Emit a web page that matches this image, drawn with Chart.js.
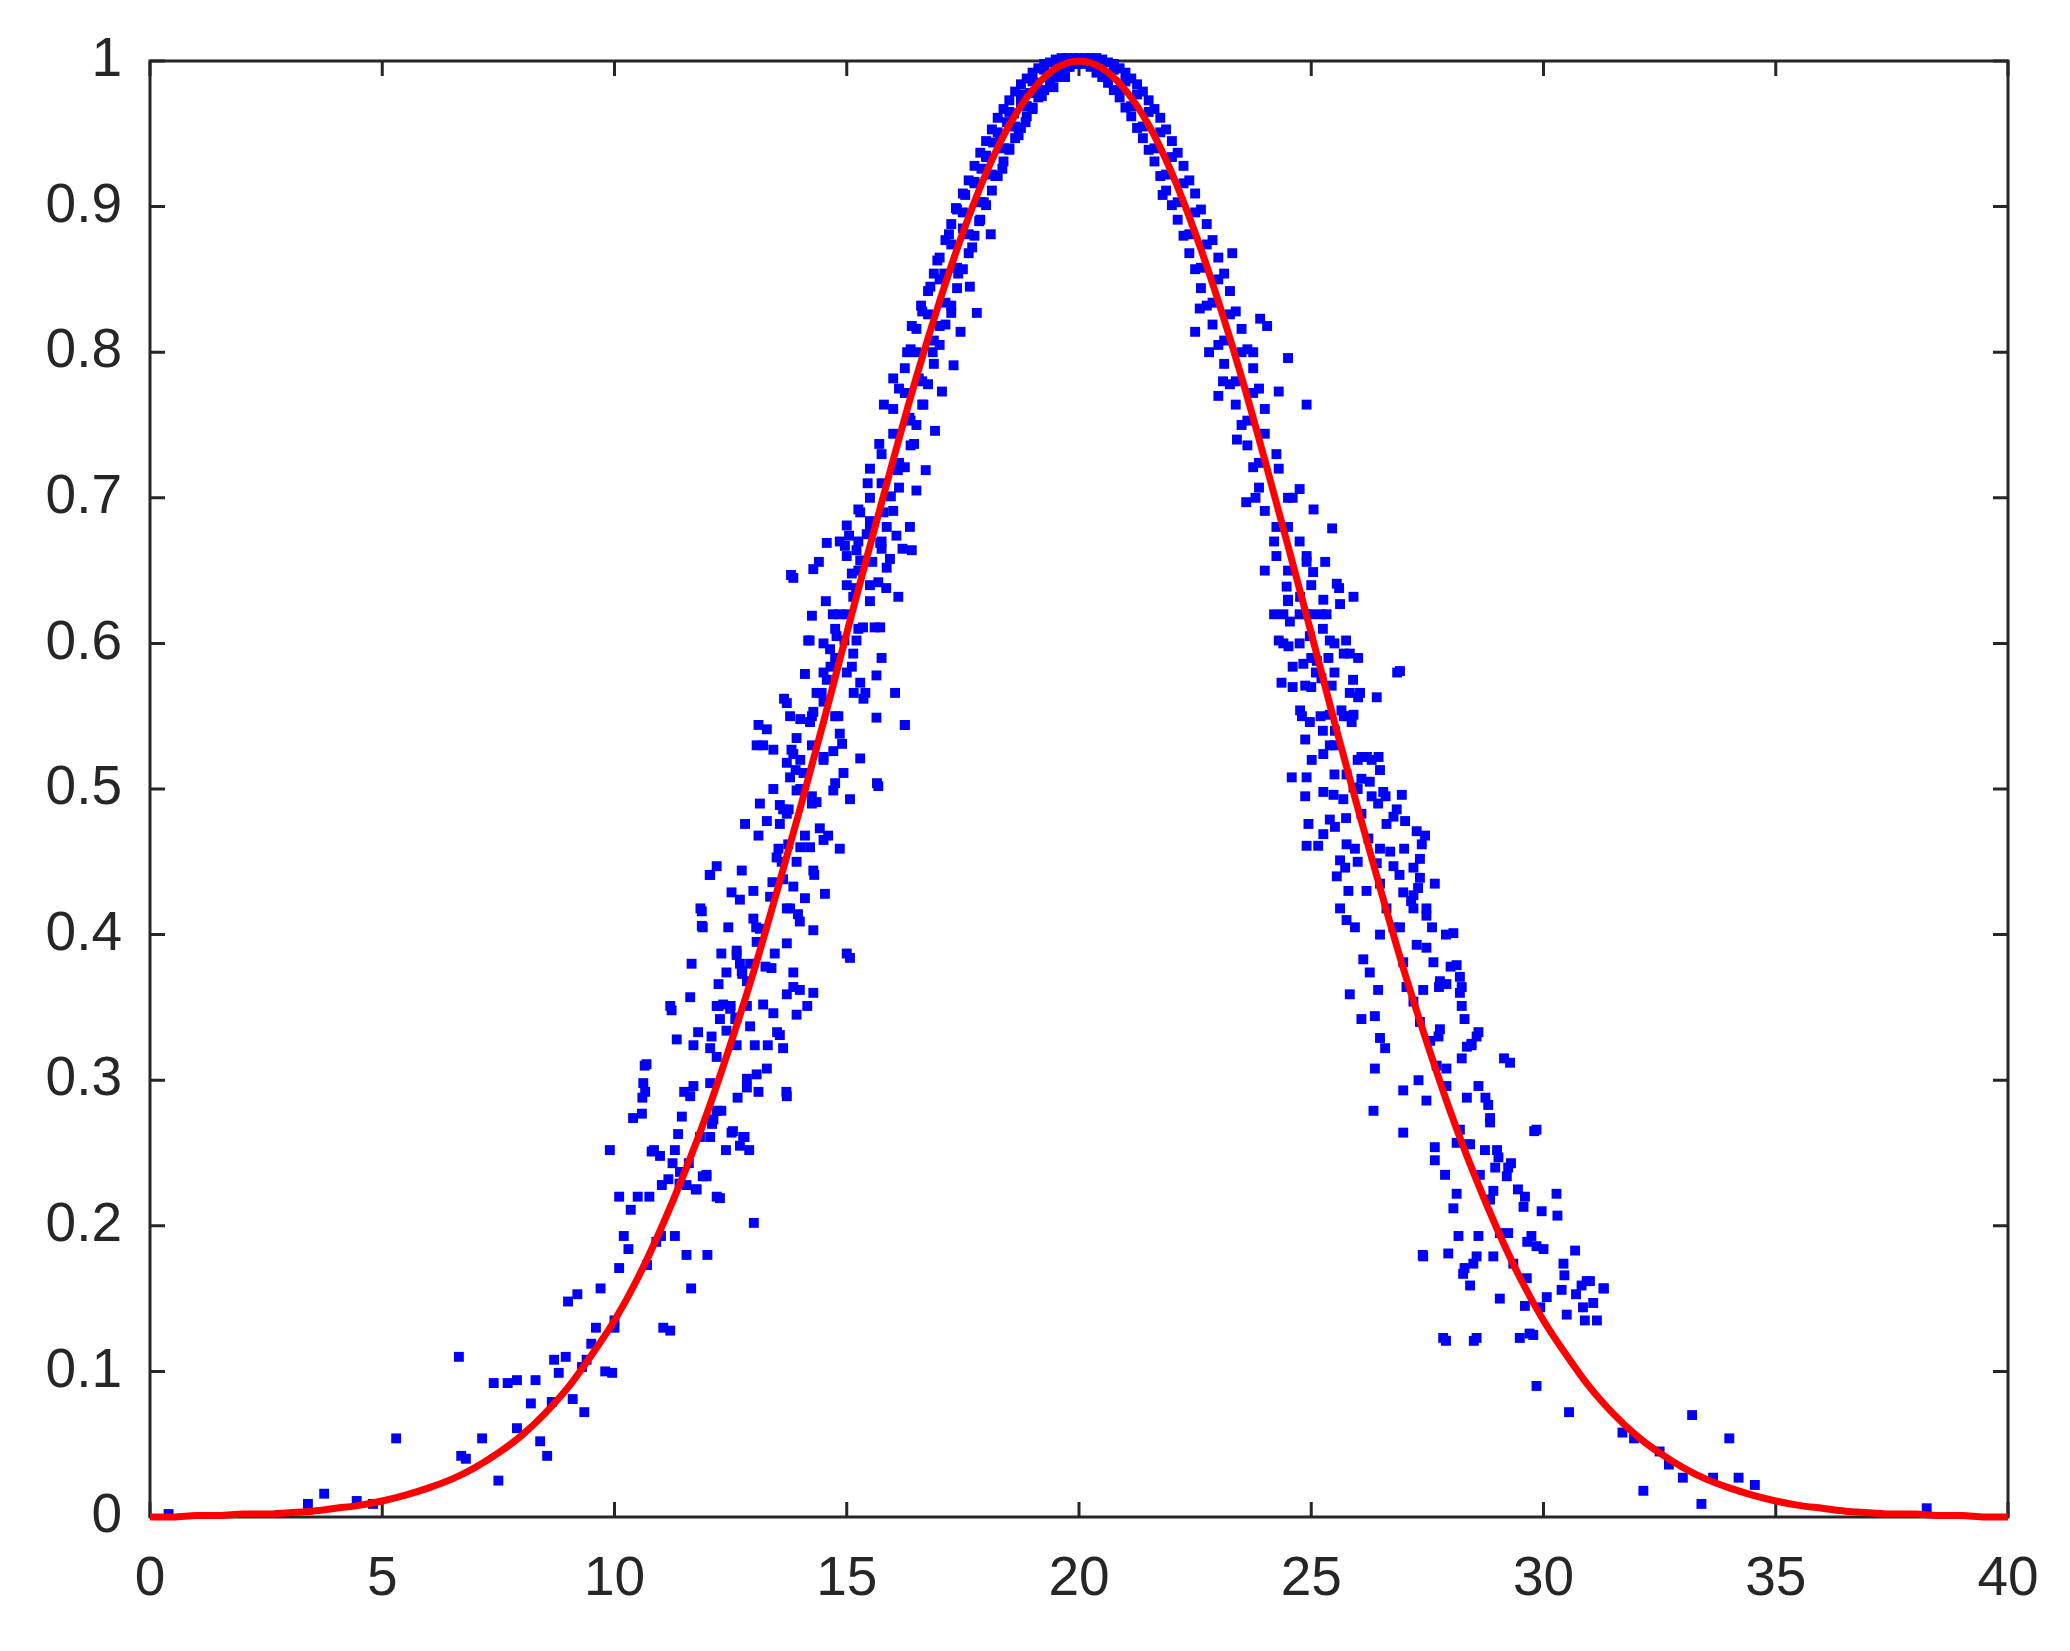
<!DOCTYPE html>
<html>
<head>
<meta charset="utf-8">
<script src="https://cdn.jsdelivr.net/npm/chart.js@4/dist/chart.umd.min.js"></script>
<style>
  html, body { margin: 0; padding: 0; background: #fff; }
  canvas { display: block; }
</style>
</head>
<body>
<canvas id="fitChart" width="2070" height="1651"></canvas>
<script>
// tick labels
const xTicks = [0, 5, 10, 15, 20, 25, 30, 35, 40];
const yTicks = [0, 0.1, 0.2, 0.3, 0.4, 0.5, 0.6, 0.7, 0.8, 0.9, 1];

// red fitted curve, every 0.5
const curveX = [0, 0.5, 1, 1.5, 2, 2.5, 3, 3.5, 4, 4.5, 5, 5.5, 6, 6.5, 7, 7.5, 8, 8.5, 9, 9.5,
  10, 10.5, 11, 11.5, 12, 12.5, 13, 13.5, 14, 14.5, 15, 15.5, 16, 16.5, 17, 17.5, 18, 18.5, 19, 19.5,
  20, 20.5, 21, 21.5, 22, 22.5, 23, 23.5, 24, 24.5, 25, 25.5, 26, 26.5, 27, 27.5, 28, 28.5, 29, 29.5,
  30, 30.5, 31, 31.5, 32, 32.5, 33, 33.5, 34, 34.5, 35, 35.5, 36, 36.5, 37, 37.5, 38, 38.5, 39, 39.5, 40];
const curveY = [0.000, 0.000, 0.001, 0.001, 0.002, 0.002, 0.003, 0.004, 0.006, 0.008, 0.011, 0.015, 0.020, 0.026, 0.034, 0.044, 0.056, 0.071, 0.089, 0.111,
  0.135, 0.164, 0.198, 0.236, 0.278, 0.325, 0.375, 0.430, 0.487, 0.546, 0.607, 0.667, 0.726, 0.783, 0.835, 0.882, 0.923, 0.956, 0.980, 0.995,
  1.000, 0.995, 0.980, 0.956, 0.923, 0.882, 0.835, 0.783, 0.726, 0.667, 0.607, 0.546, 0.487, 0.430, 0.375, 0.325, 0.278, 0.236, 0.198, 0.164,
  0.135, 0.111, 0.089, 0.071, 0.056, 0.044, 0.034, 0.026, 0.020, 0.015, 0.011, 0.008, 0.006, 0.004, 0.003, 0.002, 0.002, 0.001, 0.001, 0.000, 0.000];

// blue measured points, rising side (x < 20)
const dotsRising = [
  [0.4,0.002],[3.4,0.009],[3.75,0.016],[4.45,0.011],[4.8,0.009],[5.3,0.054],
  [6.65,0.11],[6.7,0.042],[6.8,0.040],[7.15,0.054],[7.4,0.092],[7.5,0.025],[7.7,0.092],[7.9,0.094],[7.9,0.061],
  [8.2,0.078],[8.3,0.094],[8.4,0.052],[8.55,0.042],[8.65,0.079],[8.7,0.108],[8.8,0.099],[8.95,0.11],[9.0,0.148],
  [9.1,0.081],[9.2,0.153],[9.3,0.103],[9.35,0.072],[9.4,0.108],[9.5,0.119],[9.6,0.13],[9.7,0.157],[9.8,0.1],
  [9.95,0.099],[10.0,0.135],[10.1,0.171],[9.9,0.252],[10.0,0.13],
  [10.1,0.22],[10.2,0.193],[10.3,0.184],[10.35,0.211],[10.4,0.274],[10.5,0.22],[10.6,0.288],[10.65,0.31],
  [10.7,0.173],[10.75,0.22],[10.85,0.252],[10.9,0.189],[11.0,0.193],[11.05,0.13],[11.2,0.128],[11.2,0.351],
  [11.25,0.243],[11.3,0.193],[11.4,0.229],[11.5,0.292],[11.55,0.18],[11.6,0.243],[11.65,0.157],[11.7,0.324],
  [11.75,0.225],[11.85,0.418],[11.9,0.234],[11.9,0.405],[12.0,0.18],[12.05,0.441],[12.1,0.27],[12.2,0.351],
  [12.2,0.22],[12.3,0.387],[12.3,0.279],[12.4,0.252],[12.45,0.405],[12.5,0.351],[12.55,0.265],[12.6,0.342],
  [12.65,0.288],[12.75,0.373],[12.8,0.261],[12.85,0.351],[12.9,0.252],[13.0,0.202],[13.05,0.405],[13.1,0.544],
  [13.1,0.292],[13.2,0.53],[13.25,0.378],[13.3,0.324],[13.4,0.436],[13.45,0.387],[13.5,0.333],[13.6,0.45],
  [13.65,0.562],[13.7,0.292],[13.75,0.486],[13.8,0.647],[13.85,0.364],[13.9,0.513],[13.95,0.414],[14.0,0.548],
  [14.1,0.468],[14.15,0.351],[14.2,0.602],[14.25,0.495],[14.3,0.441],[14.35,0.566],[14.4,0.656],[14.5,0.522],
  [14.55,0.629],[14.6,0.468],[14.65,0.584],[14.7,0.62],[14.75,0.504],[14.85,0.67],[14.9,0.531],[14.95,0.602],
  [15.0,0.387],[15.05,0.674],[15.15,0.566],[15.2,0.638],[15.25,0.692],[15.35,0.611],[15.4,0.566],[15.45,0.71],
  [15.55,0.656],[15.6,0.611],[15.65,0.504],[15.7,0.737],[15.75,0.665],[15.8,0.764],[15.85,0.638],[15.95,0.701],
  [16.0,0.782],[16.1,0.719],[16.2,0.665],[16.25,0.544],[16.3,0.8],[16.35,0.755],[16.4,0.818],[16.45,0.737],
  [16.5,0.705],[16.55,0.782],[16.6,0.832],[16.65,0.764],[16.7,0.719],[16.8,0.845],[16.85,0.8],[16.9,0.746],
  [16.95,0.863],[17.0,0.818],[17.05,0.773],[17.1,0.854],[17.2,0.881],[17.25,0.827],[17.3,0.791],[17.35,0.899],
  [17.4,0.854],[17.45,0.814],[17.5,0.885],[17.55,0.908],[17.65,0.845],[17.7,0.872],[17.75,0.917],[17.8,0.827],
  [17.85,0.89],[17.9,0.926],[17.95,0.903],[18.0,0.935],[18.1,0.881],[18.15,0.944],[18.2,0.921],[18.3,0.949],
  [18.35,0.926],[18.45,0.958],[18.5,0.94],[18.6,0.964],[18.7,0.949],[18.75,0.971],[18.85,0.958],[18.95,0.978],
  [19.0,0.967],[19.1,0.985],[19.2,0.976],[19.35,0.989],[19.45,0.982],[19.55,0.994],[19.7,0.989],[19.8,0.996],[19.95,0.998],
  [14.0,0.52],[14.0,0.46],[14.0,0.50],[14.25,0.55],[14.25,0.49],[14.25,0.53],
  [14.5,0.58],[14.5,0.52],[14.5,0.56],[14.5,0.60],[14.75,0.61],[14.75,0.55],[14.75,0.59],
  [15.0,0.64],[15.0,0.58],[15.0,0.62],[15.0,0.66],[15.25,0.67],[15.25,0.61],[15.25,0.65],
  [15.5,0.70],[15.5,0.64],[15.5,0.68],[15.5,0.72],[15.75,0.73],[15.75,0.67],[15.75,0.71]
];

// rising side, x 10.5 to 16.5, read from a close-up
const dotsRisingMid = [
  [13.85,0.645],[14.28,0.651],[14.57,0.669],[14.25,0.619],[14.17,0.602],[14.10,0.579],[13.71,0.559],[13.78,0.550],
  [13.28,0.541],[13.06,0.530],[13.42,0.527],[13.81,0.527],[13.71,0.518],[13.78,0.508],[13.42,0.500],[13.13,0.490],
  [13.56,0.489],[12.81,0.476],[13.28,0.478],[13.10,0.468],[13.53,0.459],[12.20,0.447],[12.06,0.441],[12.74,0.444],
  [12.52,0.429],[12.99,0.430],[12.70,0.424],[11.88,0.416],[11.88,0.406],[12.99,0.411],[12.63,0.389],[12.70,0.380],
  [11.66,0.380],[12.41,0.374],[12.24,0.366],[11.63,0.357],[11.23,0.348],[12.24,0.351],[12.49,0.349],[12.27,0.342],
  [11.34,0.328],[11.80,0.333],[12.09,0.330],[12.06,0.322],[10.69,0.311],[10.62,0.298],[10.66,0.292],[11.70,0.296],
  [11.63,0.289],[10.59,0.277],[11.45,0.275],[11.37,0.263],[12.52,0.264],[12.77,0.261],[10.80,0.251],[10.98,0.248],
  [11.30,0.252],[11.02,0.228],[11.16,0.232],[11.55,0.228],[11.98,0.234],
  [15.29,0.690],[15.79,0.690],[15.00,0.681],[15.86,0.680],[16.36,0.680],[16.07,0.674],[14.96,0.667],[15.21,0.664],
  [15.72,0.669],[16.40,0.664],[15.93,0.658],[15.11,0.648],[15.86,0.652],[15.68,0.642],[16.11,0.632],[15.50,0.629],
  [15.72,0.611],[15.21,0.602],[15.14,0.593],[15.75,0.590],[15.11,0.584],[15.64,0.578],[15.29,0.573],[16.04,0.566],
  [15.36,0.562],[15.64,0.549],[16.25,0.544],[14.82,0.550],[14.85,0.538],[14.71,0.526],[15.29,0.521],[14.93,0.511],
  [15.68,0.502],[14.71,0.499],[15.07,0.493],[14.35,0.491],[14.42,0.473],[14.85,0.459],[14.50,0.465],[14.21,0.460],
  [13.92,0.450],[14.28,0.444],[13.85,0.433],[14.10,0.425],[14.53,0.428],[13.71,0.418],[13.99,0.409],[14.28,0.403],
  [13.71,0.394],[15.07,0.384],[13.85,0.374],[13.71,0.359],[13.99,0.362],[14.28,0.360],[13.38,0.377],[13.20,0.352],
  [13.42,0.346],[13.92,0.345],[12.92,0.337],[13.56,0.331],[13.63,0.322],[13.02,0.324],[12.63,0.324],[13.28,0.308],
  [13.06,0.304],[12.85,0.301],[13.71,0.289],[12.85,0.295],[12.20,0.279],[12.06,0.261],[12.70,0.255],[11.98,0.235],
  [11.77,0.225],[12.27,0.219],
  [15.50,0.684],[15.43,0.675],[15.29,0.657],[15.14,0.632],[14.85,0.620],[14.78,0.605],[14.64,0.596],[14.57,0.575],
  [14.46,0.566],[14.28,0.553],[14.21,0.546],[13.92,0.535],[13.85,0.524],[14.07,0.511],[13.92,0.499],[13.63,0.486],
  [13.71,0.483],[13.56,0.476],[13.74,0.462],[13.49,0.453],[13.63,0.438],[13.35,0.426],[13.78,0.418],[13.13,0.404],
  [13.06,0.395],[12.63,0.386],[12.92,0.380],[12.74,0.375],[12.85,0.368],[12.34,0.352],[12.63,0.343],[12.41,0.334],
  [12.20,0.316],[12.06,0.298],[12.13,0.273],[11.84,0.261],[11.41,0.237]
];

// solid band around the peak, x 16 to 24
const dotsPeakBand = [
  [16.0,0.761],[16.0,0.691],[16.0,0.744],[16.125,0.775],[16.125,0.707],[16.125,0.724],
  [16.25,0.789],[16.25,0.721],[16.25,0.772],[16.375,0.802],[16.375,0.736],[16.375,0.753],
  [16.5,0.816],[16.5,0.750],[16.5,0.800],[16.625,0.828],[16.625,0.764],[16.625,0.780],
  [16.75,0.842],[16.75,0.778],[16.75,0.826],[16.875,0.854],[16.875,0.792],[16.875,0.808],
  [17.0,0.865],[17.0,0.805],[17.0,0.850],[17.125,0.877],[17.125,0.819],[17.125,0.834],
  [17.25,0.888],[17.25,0.832],[17.25,0.874],[17.375,0.898],[17.375,0.844],[17.375,0.858],
  [17.5,0.909],[17.5,0.857],[17.5,0.896],[17.625,0.918],[17.625,0.868],[17.625,0.881],
  [17.75,0.928],[17.75,0.880],[17.75,0.916],[17.875,0.937],[17.875,0.891],[17.875,0.903],
  [18.0,0.945],[18.0,0.901],[18.0,0.934],[18.125,0.953],[18.125,0.911],[18.125,0.922],
  [18.25,0.961],[18.25,0.921],[18.25,0.951],[18.375,0.967],[18.375,0.931],[18.375,0.940],
  [18.5,0.973],[18.5,0.939],[18.5,0.965],[18.625,0.979],[18.625,0.947],[18.625,0.955],
  [18.75,0.984],[18.75,0.954],[18.75,0.977],[18.875,0.988],[18.875,0.962],[18.875,0.969],
  [19.0,0.992],[19.0,0.968],[19.0,0.986],[19.125,0.995],[19.125,0.975],[19.125,0.980],
  [19.25,0.998],[19.25,0.980],[19.25,0.994],[19.375,0.999],[19.375,0.985],[19.375,0.989],
  [19.5,1.001],[19.5,0.989],[19.625,1.002],[19.625,0.992],[19.75,1.002],[19.75,0.996],[19.875,1.002],[19.875,0.998],
  [20.125,1.002],[20.125,0.998],[20.25,1.002],[20.25,0.996],[20.375,1.002],[20.375,0.992],[20.5,1.001],[20.5,0.989],
  [20.625,0.999],[20.625,0.985],[20.625,0.989],[20.75,0.998],[20.75,0.980],[20.75,0.994],
  [20.875,0.995],[20.875,0.975],[20.875,0.980],[21.0,0.992],[21.0,0.968],[21.0,0.986],
  [21.125,0.988],[21.125,0.962],[21.125,0.969],[21.25,0.984],[21.25,0.954],[21.25,0.977],
  [21.375,0.979],[21.375,0.947],[21.375,0.955],[21.5,0.973],[21.5,0.939],[21.5,0.965],
  [21.625,0.967],[21.625,0.931],[21.625,0.940],[21.75,0.961],[21.75,0.921],[21.75,0.951],
  [21.875,0.953],[21.875,0.911],[21.875,0.922],[22.0,0.945],[22.0,0.901],[22.0,0.934],
  [22.125,0.937],[22.125,0.891],[22.125,0.903],[22.25,0.928],[22.25,0.880],[22.25,0.916],
  [22.375,0.918],[22.375,0.868],[22.375,0.881],[22.5,0.909],[22.5,0.857],[22.5,0.896],
  [22.625,0.898],[22.625,0.844],[22.625,0.858],[22.75,0.888],[22.75,0.832],[22.75,0.874],
  [22.875,0.877],[22.875,0.819],[22.875,0.834],[23.0,0.865],[23.0,0.805],[23.0,0.850],
  [23.125,0.854],[23.125,0.792],[23.125,0.808],[23.25,0.842],[23.25,0.778],[23.25,0.826],
  [23.375,0.828],[23.375,0.764],[23.375,0.780],[23.5,0.816],[23.5,0.750],[23.5,0.800],
  [23.625,0.802],[23.625,0.736],[23.625,0.753],[23.75,0.789],[23.75,0.721],[23.75,0.772],
  [23.875,0.775],[23.875,0.707],[23.875,0.724],[24.0,0.761],[24.0,0.691],[24.0,0.744]
];

// blue measured points, falling side (x >= 20)
const dotsFalling = [
  [20.0,1.002],[21.8,0.908],[23.3,0.868],[23.9,0.823],[24.05,0.818],[23.75,0.8],[22.5,0.814],[22.8,0.80],[23.1,0.78],
  [23.4,0.74],[23.0,0.77],[22.6,0.83],[24.9,0.764],[24.3,0.773],[24.5,0.796],
  [24.25,0.73],[24.25,0.66],[24.25,0.68],[24.5,0.70],[24.5,0.63],[24.5,0.65],[24.5,0.68],[24.75,0.67],[24.75,0.60],[24.75,0.62],
  [25.0,0.64],[25.0,0.57],[25.0,0.59],[25.0,0.62],[25.25,0.61],[25.25,0.54],
  [25.5,0.58],[25.5,0.51],[25.5,0.53],[25.75,0.55],[25.75,0.48],[26.0,0.52],[26.0,0.45],[26.0,0.50],
  [23.6,0.697],[24.2,0.67],[24.3,0.602],[24.5,0.629],[24.6,0.584],[24.75,0.706],[24.9,0.656],[25.05,0.692],
  [25.2,0.62],[25.3,0.656],[25.45,0.679],[25.6,0.638],[25.7,0.593],[25.75,0.602],[25.9,0.575],[26.05,0.566],
  [23.8,0.70],[24.0,0.65],[24.2,0.62],[24.4,0.60],[24.6,0.57],[24.8,0.55],[24.3,0.72],[24.6,0.70],
  [24.9,0.66],[24.9,0.62],[25.1,0.58],[25.2,0.55],[25.4,0.53],[25.5,0.60],[25.7,0.55],
  [26.2,0.522],[26.3,0.495],[26.45,0.522],[26.6,0.495],[26.85,0.58],[26.9,0.441],[27.0,0.459],[27.15,0.423],
  [27.3,0.432],[27.45,0.468],[27.6,0.405],[27.75,0.364],[27.9,0.4],[28.0,0.378],[28.2,0.36],[28.3,0.342],
  [28.45,0.324],[28.6,0.333],[28.75,0.288],[28.85,0.274],[29.0,0.252],[29.15,0.315],[29.3,0.243],[29.45,0.225],
  [29.6,0.22],[29.8,0.265],[29.65,0.189],[29.7,0.126],[29.85,0.09],[30.0,0.184],[30.3,0.207],[30.45,0.166],
  [30.55,0.072],[30.7,0.153],[30.85,0.144],[31.0,0.162],[31.15,0.135],[31.3,0.157],[31.7,0.058],[31.95,0.054],
  [32.15,0.018],[32.5,0.045],[32.7,0.036],[33.0,0.027],[33.2,0.07],[33.4,0.009],[33.65,0.027],[34.0,0.054],
  [34.2,0.027],[34.55,0.022],[38.25,0.006],
  [27.4,0.18],[27.9,0.121],[28.5,0.121],[28.3,0.171],[28.6,0.193]
];

// falling side, x 24.4 to 31.3, read from a close-up
const dotsFallingMid = [
  [24.47,0.639],[24.40,0.620],[24.54,0.615],[24.51,0.598],[24.83,0.586],[24.36,0.573],[24.87,0.571],[24.76,0.554],
  [24.97,0.546],[24.87,0.534],[25.01,0.520],[25.26,0.524],[24.58,0.508],[24.90,0.508],[24.87,0.495],[25.26,0.498],
  [25.48,0.496],[25.69,0.493],[24.94,0.476],[25.40,0.479],[25.51,0.474],[25.26,0.469],[24.90,0.461],[25.15,0.461],
  [25.76,0.462],[25.94,0.459],[25.62,0.451],[25.73,0.446],[25.55,0.440],[25.80,0.430],[26.19,0.430],[25.62,0.418],
  [25.76,0.410],[25.94,0.405],[26.48,0.400],[26.12,0.383],[26.26,0.374],[26.44,0.362],[25.83,0.359],[26.08,0.342],
  [26.37,0.344],[26.48,0.329],[26.59,0.322],[26.37,0.308],[26.98,0.293],[26.34,0.279],[26.98,0.264],[27.48,0.286],
  [27.31,0.300],[27.66,0.254],[27.66,0.245],[27.88,0.235],[28.13,0.222],[28.06,0.212],[28.17,0.193],[27.41,0.179],
  [27.95,0.181],[28.27,0.167],[28.42,0.159],[28.56,0.179],[28.92,0.179],[29.06,0.150],[28.49,0.174],
  [25.04,0.649],[25.55,0.641],[25.91,0.632],[25.26,0.630],[25.62,0.627],[25.33,0.620],[25.40,0.602],[25.83,0.593],
  [26.01,0.590],[25.37,0.590],[26.91,0.581],[25.44,0.571],[25.83,0.566],[26.01,0.563],[26.41,0.563],[25.65,0.554],
  [25.91,0.551],[25.87,0.546],[26.08,0.522],[26.30,0.520],[26.48,0.513],[26.08,0.507],[26.26,0.505],[26.55,0.498],
  [26.95,0.496],[26.84,0.486],[27.02,0.478],[26.62,0.476],[26.77,0.481],[26.44,0.490],[27.27,0.471],[27.38,0.462],
  [26.48,0.459],[26.70,0.457],[26.77,0.447],[27.20,0.446],[27.34,0.452],[27.34,0.439],[27.66,0.435],[26.98,0.429],
  [27.20,0.427],[27.20,0.418],[27.48,0.418],[27.48,0.413],[28.06,0.401],[26.91,0.405],[27.27,0.393],[27.48,0.391],
  [27.63,0.381],[28.13,0.379],[28.20,0.371],[27.77,0.368],[27.91,0.366],[28.24,0.364],[27.41,0.362],[28.24,0.351],
  [27.77,0.335],[27.74,0.330],[28.35,0.323],[28.56,0.330],[28.45,0.325],[28.24,0.315],[29.28,0.312],[27.91,0.308],
  [28.60,0.296],[28.35,0.288],[28.81,0.283],[28.85,0.271],[29.85,0.266],[28.13,0.257],[28.42,0.256],[28.74,0.252],
  [29.03,0.247],[29.24,0.240],[28.96,0.240],[29.21,0.234],[30.28,0.222],[28.92,0.224],[29.57,0.213],[29.96,0.210],
  [29.24,0.195],[29.74,0.193],[29.85,0.186],[30.68,0.183],[30.43,0.174],[30.93,0.162],[30.82,0.159],[31.29,0.157],
  [31.07,0.147],[30.89,0.135],[30.50,0.139],[30.39,0.156],[30.07,0.151],[29.60,0.145],[29.78,0.125],[29.49,0.123],
  [28.56,0.123],[27.84,0.123],
  [24.76,0.632],[24.97,0.605],[25.12,0.588],[25.22,0.576],[25.40,0.551],[25.51,0.540],[25.76,0.510],[25.91,0.501],
  [26.08,0.483],[26.23,0.466],[26.41,0.449],[26.48,0.435],[26.62,0.418],[26.77,0.405],[26.98,0.381],[27.05,0.364],
  [27.20,0.354],[27.34,0.340],[27.56,0.327],[27.70,0.310],[27.91,0.296],[28.20,0.266],[28.35,0.256],[28.63,0.235],
  [28.85,0.218],[29.06,0.195],[29.35,0.174],[29.64,0.164],[29.93,0.144]
];

const axisColor = '#262626';
const fontSpec = { family: '"Liberation Sans", Arial, sans-serif', size: 55 };

// MATLAB style box with inward ticks on all four sides
const boxPlugin = {
    id: 'matlabBox',
    beforeDatasetsDraw(chart) {
        const { ctx, chartArea: a, scales } = chart;
        const len = 15;
        ctx.save();
        ctx.strokeStyle = axisColor;
        ctx.lineWidth = 3;
        ctx.strokeRect(a.left, a.top, a.right - a.left, a.bottom - a.top);
        ctx.beginPath();
        xTicks.forEach(v => {
            const px = scales.x.getPixelForValue(v);
            ctx.moveTo(px, a.bottom); ctx.lineTo(px, a.bottom - len);
            ctx.moveTo(px, a.top); ctx.lineTo(px, a.top + len);
        });
        yTicks.forEach(v => {
            const py = scales.y.getPixelForValue(v);
            ctx.moveTo(a.left, py); ctx.lineTo(a.left + len, py);
            ctx.moveTo(a.right, py); ctx.lineTo(a.right - len, py);
        });
        ctx.stroke();
        ctx.restore();
    }
};

const allDots = dotsRising.concat(dotsRisingMid, dotsPeakBand, dotsFalling, dotsFallingMid);

const ctx = document.getElementById('fitChart').getContext('2d');

new Chart(ctx, {
    type: 'scatter',
    data: {
        datasets: [
            {
                label: 'fit',
                data: curveX.map((x, i) => ({ x: x, y: curveY[i] })),
                showLine: true,
                borderColor: '#ff0000',
                borderWidth: 7,
                pointRadius: 0,
                cubicInterpolationMode: 'monotone',
                clip: false,
                order: 0
            },
            {
                label: 'data',
                data: allDots.map(p => ({ x: p[0], y: p[1] })),
                backgroundColor: '#0000ff',
                borderWidth: 0,
                pointRadius: 7,
                pointStyle: 'rect',
                clip: false,
                order: 1
            }
        ]
    },
    options: {
        responsive: false,
        devicePixelRatio: 1,
        animation: false,
        layout: { padding: { top: 50, right: 62, left: 0, bottom: 0 } },
        plugins: {
            legend: { display: false },
            tooltip: { enabled: false }
        },
        scales: {
            x: {
                type: 'linear',
                min: 0,
                max: 40,
                afterBuildTicks: s => { s.ticks = xTicks.map(v => ({ value: v })); },
                afterFit: s => { s.height = 134; },
                grid: { display: false, drawTicks: false },
                border: { display: false },
                ticks: {
                    color: axisColor,
                    font: fontSpec,
                    padding: 30,
                    maxRotation: 0,
                    callback: v => String(v)
                }
            },
            y: {
                type: 'linear',
                min: 0,
                max: 1,
                afterBuildTicks: s => { s.ticks = yTicks.map(v => ({ value: v })); },
                afterFit: s => { s.width = 150; },
                grid: { display: false, drawTicks: false },
                border: { display: false },
                ticks: {
                    color: axisColor,
                    font: fontSpec,
                    padding: 28,
                    callback: v => String(v)
                }
            }
        }
    },
    plugins: [boxPlugin]
});
</script>
</body>
</html>
